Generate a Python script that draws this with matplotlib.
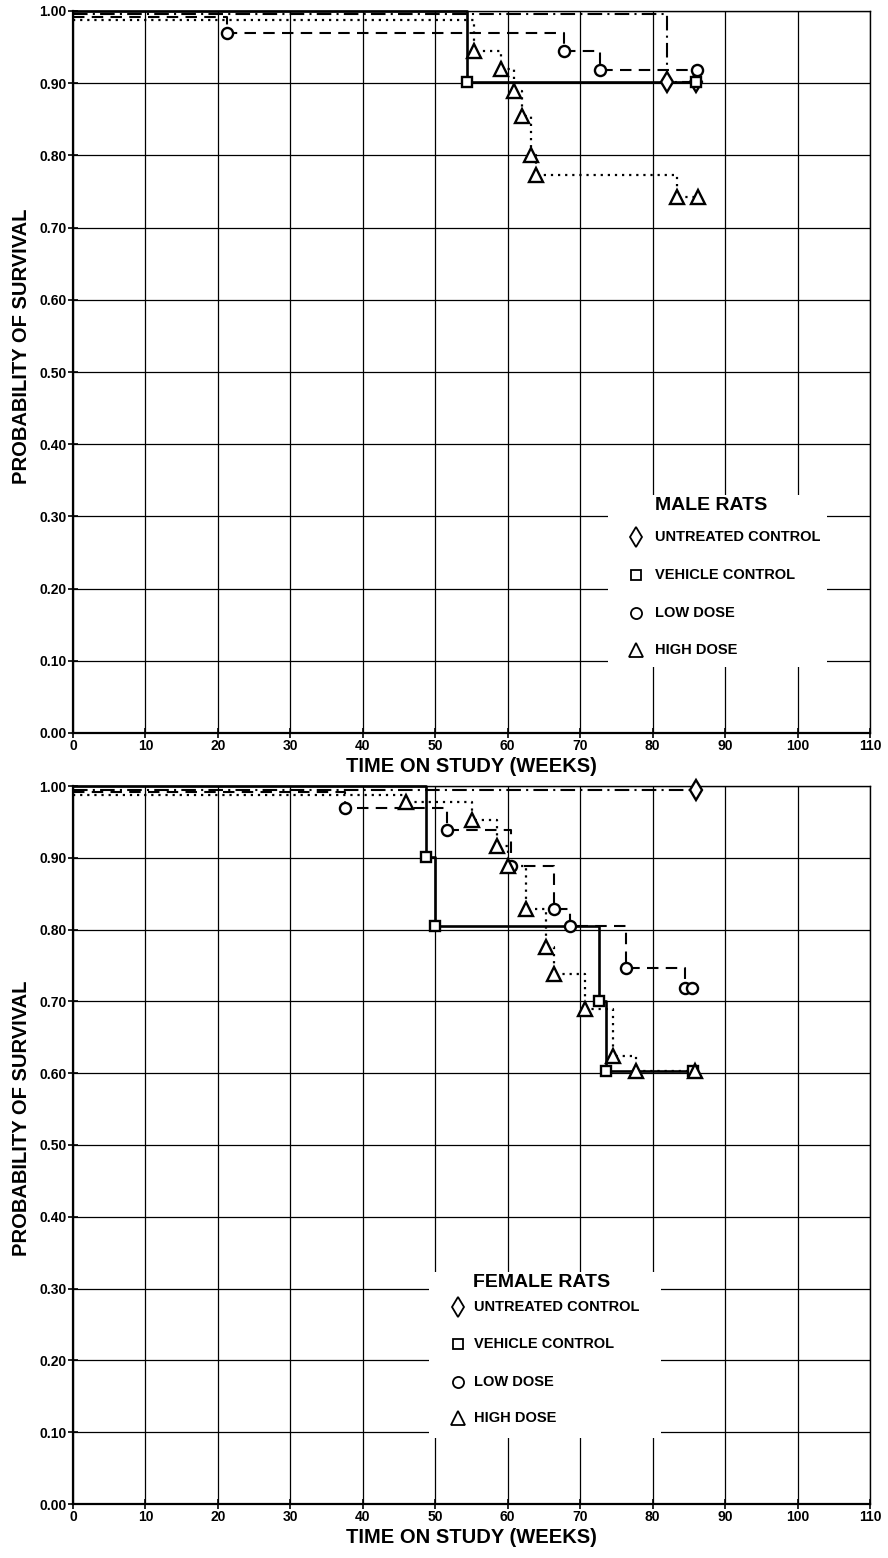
import matplotlib
matplotlib.use("Agg")
import matplotlib.pyplot as plt
from matplotlib.patches import Rectangle

plt.rcParams['font.family'] = ['Liberation Sans', 'DejaVu Sans']
plt.rcParams['font.weight'] = 'bold'

# ---- data (weeks, probability) ----
groups = ['UNTREATED CONTROL', 'VEHICLE CONTROL', 'LOW DOSE', 'HIGH DOSE']

male_untreated_t = [0, 82.0, 86.0]
male_untreated_s = [0.996, 0.902, 0.902]
male_vehicle_t = [0, 54.4, 86.0]
male_vehicle_s = [1.0, 0.902, 0.902]
male_low_t = [0, 21.2, 67.7, 72.8, 86.1]
male_low_s = [0.992, 0.970, 0.944, 0.918, 0.918]
male_high_t = [0, 55.4, 59.1, 60.9, 62.0, 63.2, 63.9, 83.4, 86.3]
male_high_s = [0.987, 0.944, 0.919, 0.889, 0.855, 0.801, 0.773, 0.743, 0.743]

female_untreated_t = [0, 86.0]
female_untreated_s = [0.995, 0.995]
female_vehicle_t = [0, 48.7, 50.0, 72.6, 73.6, 85.6]
female_vehicle_s = [1.0, 0.901, 0.805, 0.700, 0.603, 0.603]
female_low_t = [0, 37.6, 51.6, 60.5, 66.4, 68.6, 76.3, 84.4, 85.5]
female_low_s = [0.992, 0.969, 0.939, 0.888, 0.828, 0.805, 0.746, 0.718, 0.718]
female_high_t = [0, 45.9, 55.1, 58.5, 60.0, 62.5, 65.3, 66.4, 70.6, 74.5, 77.7, 85.8]
female_high_s = [0.987, 0.978, 0.952, 0.917, 0.888, 0.828, 0.776, 0.738, 0.689,
                 0.624, 0.603, 0.603]

x_ticks = list(range(0, 111, 10))
y_ticks = [i / 10 for i in range(11)]

# line / marker style per group
styles = {
    'UNTREATED CONTROL': dict(ls=(0, (7, 2.5, 1, 2.5)), lw=1.5, marker='d', ms=10),
    'VEHICLE CONTROL': dict(ls='-', lw=1.9, marker='s', ms=7.5),
    'LOW DOSE': dict(ls=(0, (5.5, 3.5)), lw=1.5, marker='o', ms=8),
    'HIGH DOSE': dict(ls=(0, (1, 2.2)), lw=1.6, marker='^', ms=10),
}


def draw_panel(ax, curves, title, box, title_xy, mark_x, text_x, rows_y):
    ax.set_xlim(0, 110)
    ax.set_ylim(0, 1.0)
    ax.set_xticks(x_ticks)
    ax.set_yticks(y_ticks)
    ax.set_xticklabels([str(v) for v in x_ticks], fontsize=10, fontweight='bold')
    ax.set_yticklabels(['%.2f' % v for v in y_ticks], fontsize=10, fontweight='bold')
    ax.tick_params(direction='inout', length=7, width=1.2, pad=1)
    ax.grid(True, color='black', lw=0.9)
    ax.set_axisbelow(True)
    for sp in ax.spines.values():
        sp.set_linewidth(1.0)
    ax.spines['left'].set_linewidth(1.6)
    ax.spines['bottom'].set_linewidth(1.6)

    for name, (t, s) in zip(groups, curves):
        st = styles[name]
        ax.step(t, s, where='post', color='black', lw=st['lw'], ls=st['ls'],
                zorder=3, clip_on=False)
        ax.plot(t[1:], s[1:], ls='none', marker=st['marker'], ms=st['ms'],
                mfc='white', mec='black', mew=1.7, zorder=4, clip_on=False)

    # legend block on white ground
    x0, x1, y0, y1 = box
    ax.add_patch(Rectangle((x0, y0), x1 - x0, y1 - y0, facecolor='white',
                           edgecolor='none', zorder=1))
    ax.text(title_xy[0], title_xy[1], title, fontsize=14, fontweight='bold',
            ha='left', va='center', zorder=5)
    for name, yy in zip(groups, rows_y):
        st = styles[name]
        ax.plot([mark_x], [yy], ls='none', marker=st['marker'],
                ms=st['ms'] * 1.0, mfc='white', mec='black', mew=1.3, zorder=5)
        ax.text(text_x, yy, name, fontsize=10.5, fontweight='bold',
                ha='left', va='center', zorder=5)

    ax.set_xlabel('TIME ON STUDY (WEEKS)', fontsize=14.5, fontweight='bold',
                  labelpad=3)


fig = plt.figure(figsize=(8.88, 15.58), dpi=100)
W, H = 888.0, 1558.0

ax1 = fig.add_axes([73 / W, (H - 733) / H, 797 / W, 722 / H])
draw_panel(ax1,
           [(male_untreated_t, male_untreated_s), (male_vehicle_t, male_vehicle_s),
            (male_low_t, male_low_s), (male_high_t, male_high_s)],
           'MALE RATS', (73.8, 104.0, 0.092, 0.330), (80.3, 0.315), 77.7, 80.3,
           [0.272, 0.219, 0.166, 0.115])

ax2 = fig.add_axes([73 / W, (H - 1504) / H, 797 / W, 718 / H])
draw_panel(ax2,
           [(female_untreated_t, female_untreated_s), (female_vehicle_t, female_vehicle_s),
            (female_low_t, female_low_s), (female_high_t, female_high_s)],
           'FEMALE RATS', (49.2, 81.1, 0.092, 0.323), (55.2, 0.309), 53.1, 55.4,
           [0.274, 0.223, 0.170, 0.120])

fig.text(22 / W, (H - 346) / H, 'PROBABILITY OF SURVIVAL', rotation=90,
         fontsize=14.5, fontweight='bold', ha='center', va='center')
fig.text(22 / W, (H - 1118) / H, 'PROBABILITY OF SURVIVAL', rotation=90,
         fontsize=14.5, fontweight='bold', ha='center', va='center')

fig.savefig('out.png', dpi=100, facecolor='white')
